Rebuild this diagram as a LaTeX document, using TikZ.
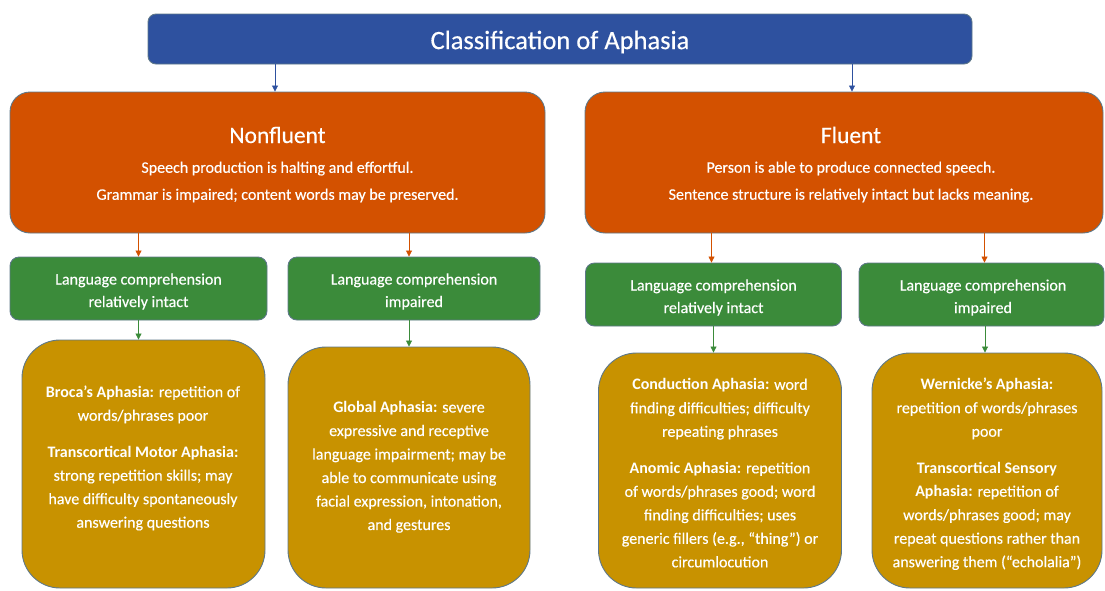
\documentclass[tikz,border=0pt]{standalone}
\usepackage{fontspec}
\setmainfont{Carlito}[UprightFeatures={FakeBold=0.35}]
\usetikzlibrary{arrows.meta}
\definecolor{cblue}{HTML}{2E519F}
\definecolor{corange}{HTML}{D35100}
\definecolor{cgreen}{HTML}{3B8B3A}
\definecolor{cgold}{HTML}{C89200}
\definecolor{cedge}{HTML}{5E7889}
\tikzset{
  boxbase/.style={draw=cedge, line width=0.9pt, inner sep=0pt},
  titlebox/.style={boxbase, fill=cblue, rounded corners=8pt},
  mainbox/.style={boxbase, fill=corange, rounded corners=20pt},
  greenbox/.style={boxbase, fill=cgreen, rounded corners=9pt},
  goldbox/.style={boxbase, fill=cgold, rounded corners=38pt},
  txt/.style={text=white, align=center, inner sep=0pt},
  titletext/.style={txt, font=\fontsize{26.5}{30}\selectfont},
  headtext/.style={txt, font=\fontsize{23.5}{27}\selectfont},
  desctext/.style={txt, font=\fontsize{16}{27}\selectfont},
  greentext/.style={txt, font=\fontsize{16}{22.5}\selectfont},
  goldtext/.style={txt, font=\fontsize{16}{23.5}\selectfont},
  conn/.style={line width=0.8pt, -{Triangle[width=6pt,length=6pt]}},
}
\newcommand{\pgap}{\\[13pt]}
\begin{document}
\begin{tikzpicture}[x=1pt,y=-1pt]
\useasboundingbox (0,0) rectangle (1105,590);
% title
\node[titlebox, minimum width=824, minimum height=50] (title) at (560,39) {};
\node[titletext] (titlet) at (560,42) {Classification of Aphasia};
% main boxes
\node[mainbox, minimum width=535, minimum height=141] (nf) at (277.5,162.5) {};
\node[headtext] (nfh) at (277.5,135) {Nonfluent};
\node[desctext] (nfd) at (277.5,182) {Speech production is halting and effortful.\\ Grammar is impaired; content words may be preserved.};
\node[mainbox, minimum width=518, minimum height=141] (fl) at (844,162.5) {};
\node[headtext] (flh) at (851,135) {Fluent};
\node[desctext] (fld) at (851,182) {Person is able to produce connected speech.\\ Sentence structure is relatively intact but lacks meaning.};
% green boxes
\node[greenbox, minimum width=257, minimum height=63] (g1) at (138.5,288.5) {};
\node[greenbox, minimum width=252, minimum height=63] (g2) at (414,288.5) {};
\node[greenbox, minimum width=256, minimum height=63] (g3) at (713.5,294.5) {};
\node[greenbox, minimum width=245, minimum height=63] (g4) at (981.5,294.5) {};
\node[greentext] (g1t) at (138.5,291.5) {Language comprehension\\relatively intact};
\node[greentext] (g2t) at (414,291.5) {Language comprehension\\impaired};
\node[greentext] (g3t) at (713.5,297.5) {Language comprehension\\relatively intact};
\node[greentext] (g4t) at (983,297.5) {Language comprehension\\impaired};
% gold boxes
\node[goldbox, minimum width=243, minimum height=248] (b1) at (143.5,464) {};
\node[goldbox, minimum width=242, minimum height=241] (b2) at (409,467.5) {};
\node[goldbox, minimum width=243, minimum height=235] (b3) at (720,470.5) {};
\node[goldbox, minimum width=230, minimum height=235] (b4) at (987,470.5) {};
\node[goldtext] (t1) at (143,458)
  {\textbf{Broca’s Aphasia:} repetition of\\ words/phrases poor\pgap
   \textbf{Transcortical Motor Aphasia:}\\ strong repetition skills; may\\ have difficulty spontaneously\\ answering questions};
\node[goldtext] (t2) at (409,467)
  {\textbf{Global Aphasia:} severe\\ expressive and receptive\\ language impairment; may be\\ able to communicate using\\ facial expression, intonation,\\ and gestures};
\node[goldtext] (t3) at (720,473)
  {\textbf{Conduction Aphasia:} word\\ finding difficulties; difficulty\\ repeating phrases\pgap
   \textbf{Anomic Aphasia:} repetition\\ of words/phrases good; word\\ finding difficulties; uses\\ generic fillers (e.g., “thing”) or\\ circumlocution};
\node[goldtext] (t4) at (987,474)
  {\textbf{Wernicke’s Aphasia:}\\ repetition of words/phrases\\ poor\pgap
   \textbf{Transcortical Sensory}\\ \textbf{Aphasia:} repetition of\\ words/phrases good; may\\ repeat questions rather than\\ answering them (“echolalia”)};
% connectors
\draw[conn, draw=cblue, fill=cblue] ([xshift=-2.5pt]nf.north |- title.south) -- ([xshift=-2.5pt]nf.north);
\draw[conn, draw=cblue, fill=cblue] ([xshift=8pt]fl.north |- title.south) -- ([xshift=8pt]fl.north);
\draw[conn, draw=corange, fill=corange] (g1.north |- nf.south) -- (g1.north);
\draw[conn, draw=corange, fill=corange] (b2.north |- nf.south) -- (b2.north |- g2.north);
\draw[conn, draw=corange, fill=corange] ([xshift=-2pt]g3.north |- fl.south) -- ([xshift=-2pt]g3.north);
\draw[conn, draw=corange, fill=corange] ([xshift=3pt]g4.north |- fl.south) -- ([xshift=3pt]g4.north);
\draw[conn, draw=cgreen, fill=cgreen] (g1.south) -- (g1.south |- b1.north);
\draw[conn, draw=cgreen, fill=cgreen] (b2.north |- g2.south) -- (b2.north);
\draw[conn, draw=cgreen, fill=cgreen] (g3.south) -- (g3.south |- b3.north);
\draw[conn, draw=cgreen, fill=cgreen] ([xshift=3.5pt]g4.south) -- ([xshift=3.5pt]g4.south |- b4.north);
\end{tikzpicture}
\end{document}
